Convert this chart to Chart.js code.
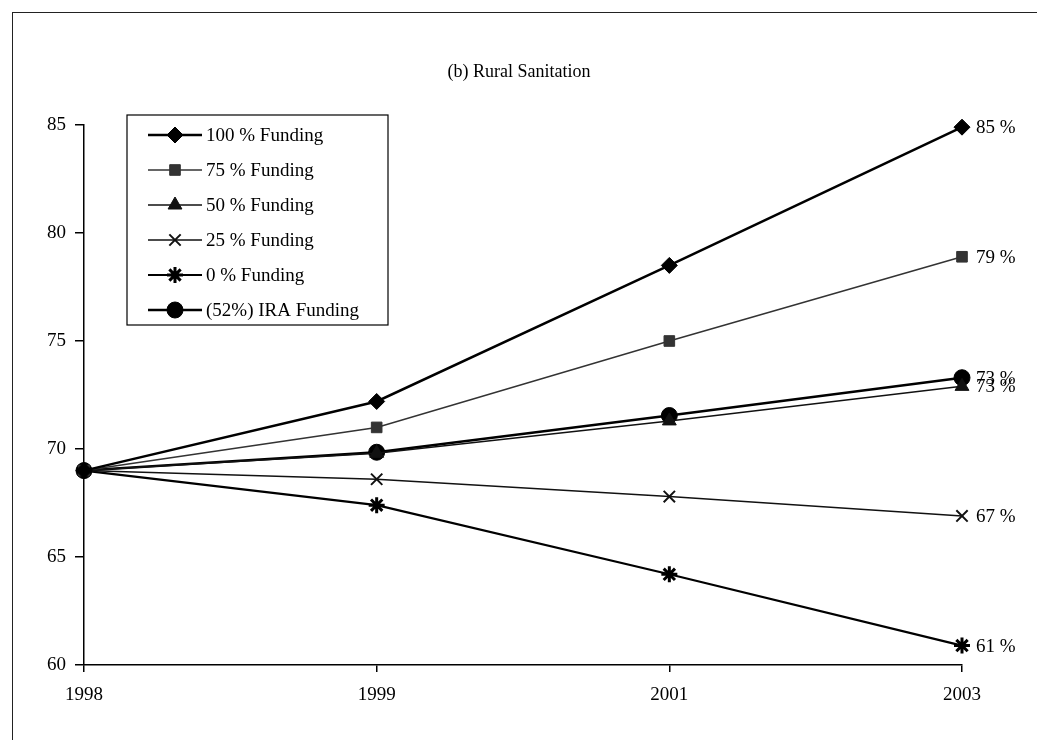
<!DOCTYPE html>
<html>
<head>
<meta charset="utf-8">
<title>Rural Sanitation</title>
<script src="https://cdn.jsdelivr.net/npm/chart.js@4.4.1/dist/chart.umd.min.js"></script>
<style>
    html, body { margin: 0; padding: 0; background: #fff; }
    #wrap { position: relative; width: 1037px; height: 740px; overflow: hidden; }
    #frame { position: absolute; left: 12px; top: 12px; right: -5px; bottom: -5px;
             border-left: 1.5px solid #222; border-top: 1.5px solid #222; }
    #chart { position: absolute; left: 0; top: 0; }
</style>
</head>
<body>
<div id="wrap">
    <div id="frame"></div>
    <canvas id="chart" width="1037" height="740"></canvas>
</div>
<script>
// ---- data ----
const years = ['1998', '1999', '2001', '2003'];
const seriesNames = ['100 % Funding', '75 % Funding', '50 % Funding', '25 % Funding', '0 % Funding', '(52%) IRA Funding'];
const fund100 = [69, 72.2, 78.5, 84.9];
const fund75  = [69, 71.0, 75.0, 78.9];
const fund50  = [69, 69.8, 71.3, 72.9];
const fund25  = [69, 68.6, 67.8, 66.9];
const fund0   = [69, 67.4, 64.2, 60.9];
const fundIRA = [69, 69.85, 71.55, 73.3];
// end labels, same order as the series
const endLabels = ['85 %', '79 %', '73 %', '67 %', '61 %', '73 %'];
const yTicks = [60, 65, 70, 75, 80, 85];

const FONT = '"Liberation Serif", "DejaVu Serif", serif';

// marker / line look for each series
const looks = [
    { style: 'rectRot',  radius: 8, width: 2.5, color: '#000', pw: 1 },
    { style: 'rect',     radius: 7.5, width: 1.5, color: '#333', pw: 1 },
    { style: 'triangle', radius: 8, width: 1.5, color: '#111', pw: 1 },
    { style: 'crossRot', radius: 8, width: 1.5, color: '#111', pw: 2 },
    { style: 'star',     radius: 8, width: 2.2, color: '#000', pw: 3 },
    { style: 'circle',   radius: 8, width: 2.5, color: '#000', pw: 1 }
];

const allValues = [fund100, fund75, fund50, fund25, fund0, fundIRA];

const datasets = allValues.map((vals, i) => ({
    label: seriesNames[i],
    data: vals,
    borderColor: looks[i].color,
    backgroundColor: looks[i].color,
    borderWidth: looks[i].width,
    pointStyle: looks[i].style,
    pointRadius: looks[i].radius,
    pointBorderWidth: looks[i].pw,
    pointBackgroundColor: looks[i].color,
    pointBorderColor: looks[i].color,
    tension: 0,
    fill: false,
    clip: false
}));

// title, end labels and boxed legend drawn on the canvas
const decorPlugin = {
    id: 'decor',
    afterDatasetsDraw(chart) {
        const ctx = chart.ctx;
        ctx.save();
        // title
        ctx.fillStyle = '#000';
        ctx.font = '18px ' + FONT;
        ctx.textAlign = 'center';
        ctx.textBaseline = 'middle';
        ctx.fillText('(b) Rural Sanitation', 519, 72);

        // end-point labels
        ctx.font = '19px ' + FONT;
        ctx.textAlign = 'left';
        chart.data.datasets.forEach((ds, i) => {
            const meta = chart.getDatasetMeta(i);
            const pt = meta.data[meta.data.length - 1];
            ctx.fillText(endLabels[i], pt.x + 14, pt.y + 1);
        });

        // legend box
        const box = { x: 127, y: 115, w: 261, h: 210 };
        ctx.fillStyle = '#fff';
        ctx.fillRect(box.x, box.y, box.w, box.h);
        ctx.strokeStyle = '#000';
        ctx.lineWidth = 1.2;
        ctx.strokeRect(box.x, box.y, box.w, box.h);

        chart.data.datasets.forEach((ds, i) => {
            const y = box.y + 20 + i * 35;
            ctx.strokeStyle = ds.borderColor;
            ctx.fillStyle = ds.backgroundColor;
            ctx.lineWidth = ds.borderWidth;
            ctx.beginPath();
            ctx.moveTo(148, y);
            ctx.lineTo(202, y);
            ctx.stroke();
            ctx.lineWidth = ds.pointBorderWidth;
            Chart.helpers.drawPoint(ctx, {
                pointStyle: ds.pointStyle,
                radius: ds.pointRadius,
                rotation: 0,
                borderWidth: ds.pointBorderWidth
            }, 175, y);
            ctx.fillStyle = '#000';
            ctx.font = '19px ' + FONT;
            ctx.textAlign = 'left';
            ctx.textBaseline = 'middle';
            ctx.fillText(ds.label, 206, y + 1);
        });
        ctx.restore();
    }
};

new Chart(document.getElementById('chart'), {
    type: 'line',
    data: { labels: years, datasets: datasets },
    options: {
        responsive: false,
        animation: false,
        layout: { padding: { left: 0, right: 75, top: 125, bottom: 0 } },
        plugins: {
            legend: { display: false },
            title: { display: false },
            tooltip: { enabled: false }
        },
        scales: {
            x: {
                type: 'category',
                offset: false,
                grid: { display: true, drawOnChartArea: false, drawTicks: true, tickLength: 7, color: '#000', lineWidth: 1.5 },
                border: { display: true, color: '#000', width: 1.5 },
                ticks: { color: '#000', font: { family: FONT, size: 19 }, padding: 12, maxRotation: 0 },
                afterFit(scale) { scale.height = 75; }
            },
            y: {
                min: 60,
                max: 85,
                afterBuildTicks(scale) { scale.ticks = yTicks.map(v => ({ value: v })); },
                grid: { display: true, drawOnChartArea: false, drawTicks: true, tickLength: 9, color: '#000', lineWidth: 1.5 },
                border: { display: true, color: '#000', width: 1.5 },
                ticks: { color: '#000', font: { family: FONT, size: 19 }, padding: 9 },
                afterFit(scale) { scale.width = 84; }
            }
        }
    },
    plugins: [decorPlugin]
});
</script>
</body>
</html>
